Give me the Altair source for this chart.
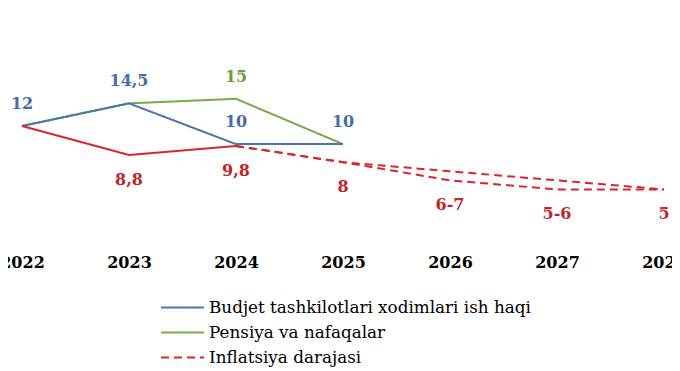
import altair as alt
import pandas as pd

# ---- data ----
years = [2022, 2023, 2024, 2025, 2026, 2027, 2028]
series_names = ["Budjet tashkilotlari xodimlari ish haqi", "Pensiya va nafaqalar", "Inflatsiya darajasi"]

budjet_years = [2022, 2023, 2024, 2025]
budjet_vals = [12, 14.5, 10, 10]
pensiya_years = [2022, 2023, 2024, 2025]
pensiya_vals = [12, 14.5, 15, 10]
infl_fact_years = [2022, 2023, 2024]
infl_fact_vals = [12, 8.8, 9.8]
infl_fc_years = [2024, 2025, 2026, 2027, 2028]
infl_upper_vals = [9.8, 8, 7, 6, 5]
infl_lower_vals = [9.8, 8, 6, 5, 5]

# data labels
above_years = [2022, 2023, 2024, 2024, 2025]
above_vals = [12, 14.5, 15, 10, 10]
above_text = ["12", "14,5", "15", "10", "10"]
above_series = [series_names[0], series_names[0], series_names[1], series_names[0], series_names[0]]
below_years = [2023, 2024, 2025, 2026, 2027, 2028]
below_vals = [8.8, 9.8, 8, 6, 5, 5]
below_text = ["8,8", "9,8", "8", "6-7", "5-6", "5"]

# ---- tables ----
rows = []
for y, v in zip(budjet_years, budjet_vals):
    rows.append({"year": y, "value": v, "series": series_names[0], "line": "b"})
for y, v in zip(pensiya_years, pensiya_vals):
    rows.append({"year": y, "value": v, "series": series_names[1], "line": "p"})
for y, v in zip(infl_fc_years, infl_upper_vals):
    rows.append({"year": y, "value": v, "series": series_names[2], "line": "iu"})
for y, v in zip(infl_fc_years, infl_lower_vals):
    rows.append({"year": y, "value": v, "series": series_names[2], "line": "il"})
lines_df = pd.DataFrame(rows)
fact_df = pd.DataFrame({"year": infl_fact_years, "value": infl_fact_vals})
above_df = pd.DataFrame({"year": above_years, "value": above_vals, "text": above_text, "series": above_series})
below_df = pd.DataFrame({"year": below_years, "value": below_vals, "text": below_text})

BLUE = "#4a74b2"
GREEN = "#78aa48"
RED = "#d8262b"
BLUE_T = "#4a6aa6"
GREEN_T = "#6e9a3e"
RED_T = "#c3242c"
FONT = "DejaVu Serif"

W, H = 664, 244
px_per_year = 107
d0 = 2022 - 14 / px_per_year
d1 = d0 + W / px_per_year
ppu = 9.06
ymax = 12 + 118 / ppu
ymin = ymax - H / ppu

x = alt.X("year:Q", scale=alt.Scale(domain=[d0, d1], nice=False, zero=False),
          axis=alt.Axis(values=years, format="d", title=None, domain=False, ticks=False, grid=False,
                        labelFont=FONT, labelFontSize=16, labelFontWeight="bold", labelColor="black",
                        labelPadding=2, labelOverlap=False, labelFlush=False))
y = alt.Y("value:Q", scale=alt.Scale(domain=[ymin, ymax], nice=False, zero=False), axis=None)

leg = alt.Legend(title=None, orient="none", legendX=152, legendY=287, direction="vertical")
color = alt.Color("series:N", scale=alt.Scale(domain=series_names, range=[BLUE, GREEN, RED]), legend=leg)
dash = alt.StrokeDash("series:N", scale=alt.Scale(domain=series_names, range=[[1, 0], [1, 0], [8, 5]]),
                      legend=leg)

base = alt.Chart(lines_df).mark_line(strokeWidth=2).encode(x=x, y=y, color=color, strokeDash=dash, detail="line:N")
green_l = base.transform_filter(alt.datum.line == "p")
blue_l = base.transform_filter(alt.datum.line == "b")
red_l = base.transform_filter((alt.datum.line == "iu") | (alt.datum.line == "il"))
fact_l = alt.Chart(fact_df).mark_line(strokeWidth=2, color=RED).encode(x=x, y=y)

def above_layer(sname, col):
    return alt.Chart(above_df).transform_filter(alt.datum.series == sname).mark_text(
        font=FONT, fontSize=16, fontWeight="bold", dy=-22, baseline="middle", color=col
    ).encode(x=x, y=y, text="text:N")

lab_blue = above_layer(series_names[0], BLUE_T)
lab_green = above_layer(series_names[1], GREEN_T)
lab_red = alt.Chart(below_df).mark_text(font=FONT, fontSize=16, fontWeight="bold", dy=25,
                                        baseline="middle", color=RED_T).encode(x=x, y=y, text="text:N")

chart = alt.layer(green_l, blue_l, red_l, fact_l, lab_blue, lab_green, lab_red).properties(
    width=W, height=H,
    autosize=alt.AutoSizeParams(type="none"),
    padding={"left": 0, "top": 0, "right": 0, "bottom": 118},
).configure_view(stroke=None).configure_legend(
    labelFont=FONT, labelFontSize=16.8, labelColor="black", symbolType="stroke",
    symbolSize=1849, symbolStrokeWidth=2, labelOffset=4, rowPadding=0, clipHeight=25,
    symbolOpacity=1, labelLimit=0,
)

chart.save("out.html", embed_options={"renderer": "svg", "actions": False})
